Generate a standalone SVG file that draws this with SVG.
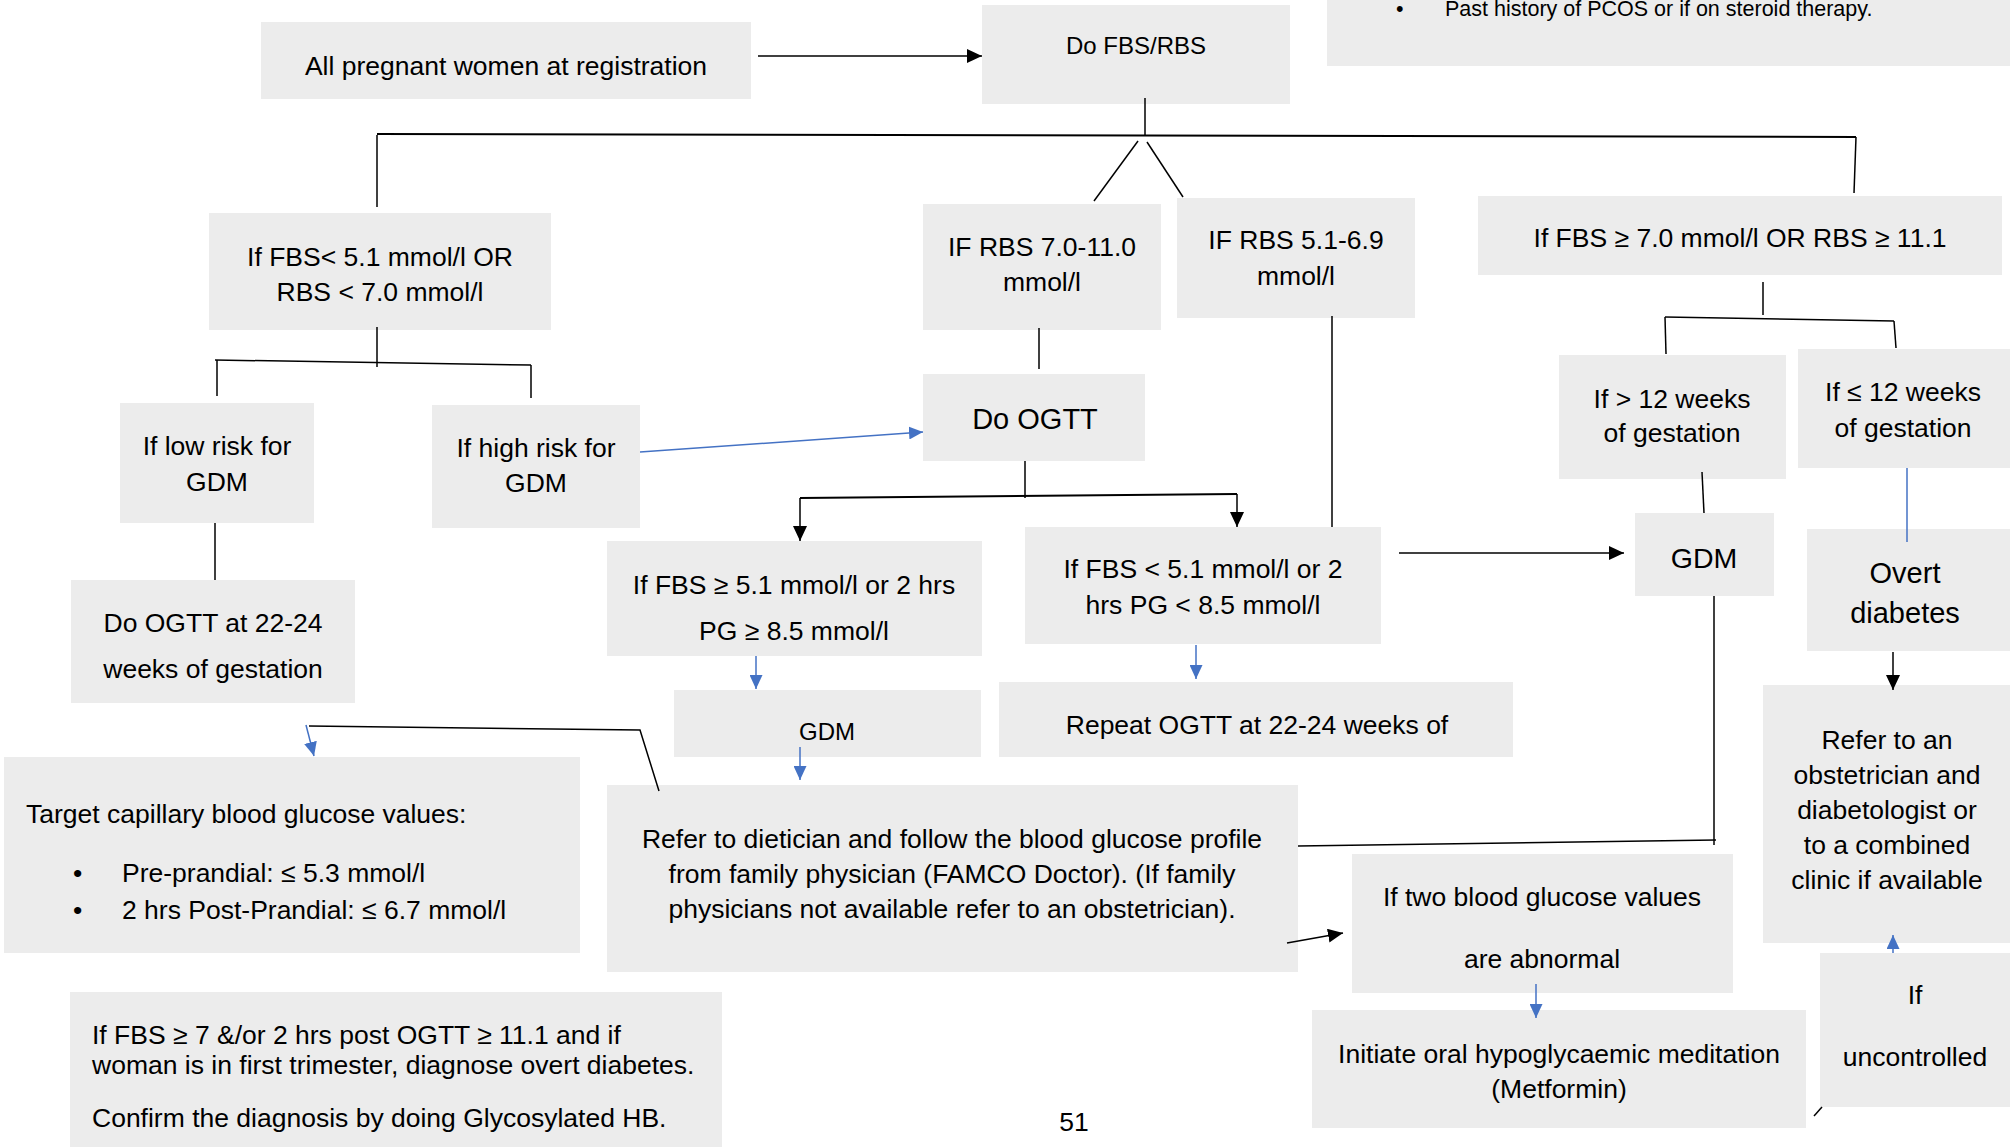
<svg xmlns="http://www.w3.org/2000/svg" width="2010" height="1147" viewBox="0 0 2010 1147">
<style>
.box{fill:#ececec}
text{font-family:"Liberation Sans",Arial,sans-serif;font-size:26.5px;fill:#000}
.c{text-anchor:middle}
.k{stroke:#000;stroke-width:1.5;fill:none}
.b{stroke:#4472c4;stroke-width:1.5;fill:none}
.ka{marker-end:url(#ah)}
.ba{marker-end:url(#bh)}
</style>
<defs>
<marker id="ah" markerUnits="userSpaceOnUse" markerWidth="16" markerHeight="14" refX="15" refY="7" orient="auto"><path d="M0,0 L15,7 L0,14 z" fill="#000"/></marker>
<marker id="bh" markerUnits="userSpaceOnUse" markerWidth="15" markerHeight="13" refX="14" refY="6.5" orient="auto"><path d="M0,0 L14,6.5 L0,13 z" fill="#4472c4"/></marker>
</defs>
<rect width="2010" height="1147" fill="#fff"/>

<g id="n-all"><rect class="box" x="261" y="22" width="490" height="77"/><text class="c" x="506" y="75">All pregnant women at registration</text></g>
<g id="n-fbsrbs"><rect class="box" x="982" y="5" width="308" height="99"/><text class="c" x="1136" y="54" style="font-size:24px">Do FBS/RBS</text></g>
<g id="n-pcos"><rect class="box" x="1327" y="0" width="683" height="66"/><text x="1396" y="16" style="font-size:21.5px">•</text><text x="1445" y="16" style="font-size:21.5px">Past history of PCOS or if on steroid therapy.</text></g>
<g id="n-low-fbs"><rect class="box" x="209" y="213" width="342" height="117"/><text class="c" x="380" y="266">If FBS&lt; 5.1 mmol/l OR</text><text class="c" x="380" y="301">RBS &lt; 7.0 mmol/l</text></g>
<g id="n-rbs7"><rect class="box" x="923" y="204" width="238" height="126"/><text class="c" x="1042" y="256">IF RBS 7.0-11.0</text><text class="c" x="1042" y="291">mmol/l</text></g>
<g id="n-rbs5"><rect class="box" x="1177" y="198" width="238" height="120"/><text class="c" x="1296" y="249">IF RBS 5.1-6.9</text><text class="c" x="1296" y="285">mmol/l</text></g>
<g id="n-high-fbs"><rect class="box" x="1478" y="196" width="524" height="79"/><text class="c" x="1740" y="247">If FBS ≥ 7.0 mmol/l OR RBS ≥ 11.1</text></g>
<g id="n-lowrisk"><rect class="box" x="120" y="403" width="194" height="120"/><text class="c" x="217" y="455">If low risk for</text><text class="c" x="217" y="491">GDM</text></g>
<g id="n-highrisk"><rect class="box" x="432" y="405" width="208" height="123"/><text class="c" x="536" y="457">If high risk for</text><text class="c" x="536" y="492">GDM</text></g>
<g id="n-ogtt"><rect class="box" x="923" y="374" width="222" height="87"/><text class="c" x="1035" y="429" style="font-size:29px">Do OGTT</text></g>
<g id="n-pos"><rect class="box" x="607" y="541" width="375" height="115"/><text class="c" x="794" y="594">If FBS ≥ 5.1 mmol/l or 2 hrs</text><text class="c" x="794" y="640">PG ≥ 8.5 mmol/l</text></g>
<g id="n-neg"><rect class="box" x="1025" y="527" width="356" height="117"/><text class="c" x="1203" y="578">If FBS &lt; 5.1 mmol/l or 2</text><text class="c" x="1203" y="614">hrs PG &lt; 8.5 mmol/l</text></g>
<g id="n-gdm-mid"><rect class="box" x="674" y="690" width="307" height="67"/><text class="c" x="827" y="740" style="font-size:24px">GDM</text></g>
<g id="n-repeat"><rect class="box" x="999" y="682" width="514" height="75"/><text class="c" x="1257" y="734">Repeat OGTT at 22-24 weeks of</text></g>
<g id="n-ogtt2224"><rect class="box" x="71" y="580" width="284" height="123"/><text class="c" x="213" y="632">Do OGTT at 22-24</text><text class="c" x="213" y="678">weeks of gestation</text></g>
<g id="n-target"><rect class="box" x="4" y="757" width="576" height="196"/><text x="26" y="823">Target capillary blood glucose values:</text><text x="73" y="882">•</text><text x="122" y="882">Pre-prandial: ≤ 5.3 mmol/l</text><text x="73" y="919">•</text><text x="122" y="919">2 hrs Post-Prandial: ≤ 6.7 mmol/l</text></g>
<g id="n-refer-diet"><rect class="box" x="607" y="785" width="691" height="187"/><text class="c" x="952" y="848">Refer to dietician and follow the blood glucose profile</text><text class="c" x="952" y="883">from family physician (FAMCO Doctor). (If family</text><text class="c" x="952" y="918">physicians not available refer to an obstetrician).</text></g>
<g id="n-overt-note"><rect class="box" x="70" y="992" width="652" height="155"/><text x="92" y="1044">If FBS ≥ 7 &amp;/or 2 hrs post OGTT ≥ 11.1 and if</text><text x="92" y="1074">woman is in first trimester, diagnose overt diabetes.</text><text x="92" y="1127">Confirm the diagnosis by doing Glycosylated HB.</text></g>
<g id="n-gt12"><rect class="box" x="1559" y="355" width="227" height="124"/><text class="c" x="1672" y="408">If &gt; 12 weeks</text><text class="c" x="1672" y="442">of gestation</text></g>
<g id="n-le12"><rect class="box" x="1798" y="349" width="212" height="119"/><text class="c" x="1903" y="401">If ≤ 12 weeks</text><text class="c" x="1903" y="437">of gestation</text></g>
<g id="n-gdm-right"><rect class="box" x="1635" y="513" width="139" height="83"/><text class="c" x="1704" y="568" style="font-size:28.5px">GDM</text></g>
<g id="n-overt"><rect class="box" x="1807" y="529" width="203" height="122"/><text class="c" x="1905" y="583" style="font-size:29px">Overt</text><text class="c" x="1905" y="623" style="font-size:29px">diabetes</text></g>
<g id="n-refer-obs"><rect class="box" x="1763" y="685" width="247" height="258"/><text class="c" x="1887" y="749">Refer to an</text><text class="c" x="1887" y="784">obstetrician and</text><text class="c" x="1887" y="819">diabetologist or</text><text class="c" x="1887" y="854">to a combined</text><text class="c" x="1887" y="889">clinic if available</text></g>
<g id="n-two"><rect class="box" x="1352" y="854" width="381" height="139"/><text class="c" x="1542" y="906">If two blood glucose values</text><text class="c" x="1542" y="968">are abnormal</text></g>
<g id="n-metformin"><rect class="box" x="1312" y="1010" width="494" height="118"/><text class="c" x="1559" y="1063">Initiate oral hypoglycaemic meditation</text><text class="c" x="1559" y="1098">(Metformin)</text></g>
<g id="n-uncontrolled"><rect class="box" x="1820" y="953" width="190" height="154"/><text class="c" x="1915" y="1004">If</text><text class="c" x="1915" y="1066">uncontrolled</text></g>
<text class="c" x="1074" y="1131">51</text>

<g id="connectors">
<line class="k ka" x1="758" y1="56" x2="982" y2="56"/>
<line class="k" x1="1145" y1="98" x2="1145" y2="135"/>
<line class="k" x1="377" y1="134" x2="1856" y2="137" style="stroke-width:2"/>
<line class="k" x1="377" y1="135" x2="377" y2="207"/>
<line class="k" x1="1856" y1="137" x2="1854" y2="193"/>
<line class="k" x1="1138" y1="141" x2="1094" y2="201"/>
<line class="k" x1="1147" y1="142" x2="1183" y2="197"/>
<line class="k" x1="377" y1="327" x2="377" y2="367"/>
<line class="k" x1="215" y1="360" x2="531" y2="365"/>
<line class="k" x1="217" y1="360" x2="217" y2="396"/>
<line class="k" x1="531" y1="365" x2="531" y2="398"/>
<line class="k" x1="215" y1="523" x2="215" y2="580"/>
<line class="b ba" x1="640" y1="452" x2="923" y2="432"/>
<line class="k" x1="1039" y1="328" x2="1039" y2="369"/>
<line class="k" x1="1025" y1="461" x2="1025" y2="498"/>
<line class="k" x1="800" y1="498" x2="1237" y2="494" style="stroke-width:2"/>
<line class="k ka" x1="800" y1="498" x2="800" y2="541"/>
<line class="k ka" x1="1237" y1="494" x2="1237" y2="527"/>
<line class="k" x1="1332" y1="316" x2="1332" y2="527"/>
<line class="b ba" x1="756" y1="656" x2="756" y2="689"/>
<line class="b ba" x1="800" y1="747" x2="800" y2="780"/>
<line class="b ba" x1="1196" y1="645" x2="1196" y2="679"/>
<line class="b ba" x1="306" y1="725" x2="314" y2="756"/>
<polyline class="k" points="309,726 640,730 659,791"/>
<line class="k ka" x1="1399" y1="553" x2="1624" y2="553"/>
<line class="k" x1="1763" y1="282" x2="1763" y2="315"/>
<line class="k" x1="1665" y1="317" x2="1894" y2="321"/>
<line class="k" x1="1665" y1="317" x2="1666" y2="354"/>
<line class="k" x1="1894" y1="321" x2="1896" y2="348"/>
<line class="k" x1="1702" y1="472" x2="1704" y2="513"/>
<line class="b" x1="1907" y1="468" x2="1907" y2="542"/>
<line class="k ka" x1="1893" y1="652" x2="1893" y2="690"/>
<line class="k" x1="1714" y1="596" x2="1714" y2="845"/>
<line class="k" x1="1298" y1="846" x2="1716" y2="840"/>
<line class="k ka" x1="1287" y1="943" x2="1343" y2="933"/>
<line class="b ba" x1="1536" y1="984" x2="1536" y2="1018"/>
<line class="b ba" x1="1893" y1="953" x2="1893" y2="935"/>
<line class="k" x1="1814" y1="1116" x2="1822" y2="1107"/>
</g>
</svg>
